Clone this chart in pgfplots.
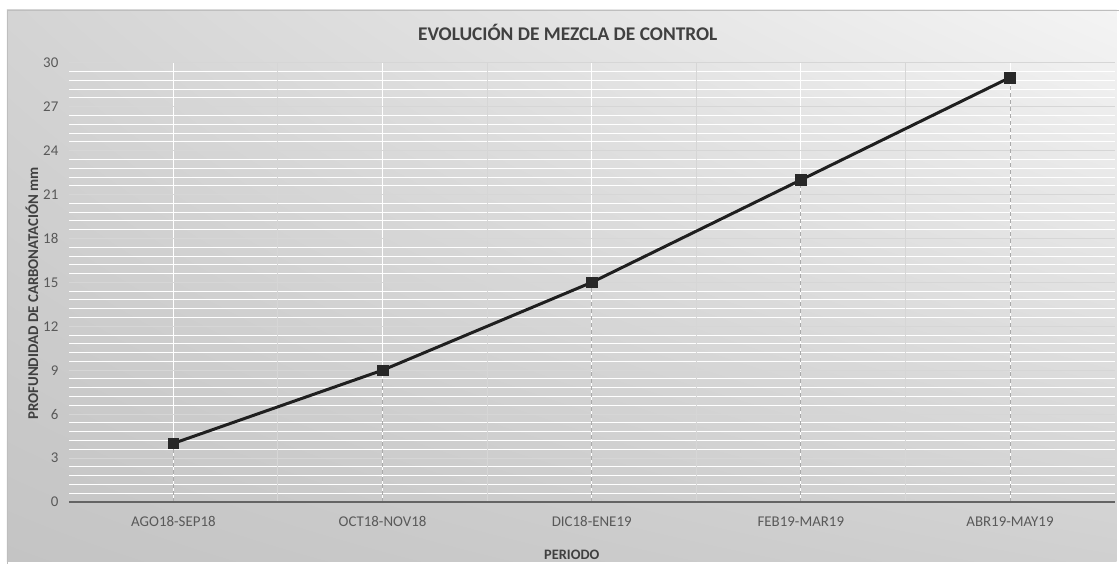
\documentclass[border=0pt]{standalone}
\usepackage{pgfplots}
\pgfplotsset{compat=1.18}
\usetikzlibrary{shadings}
\usepackage{fontspec}
\setmainfont{Carlito}
\definecolor{txt}{HTML}{595959}
\definecolor{ttl}{HTML}{404040}
\definecolor{dark}{HTML}{1F1F1F}
\definecolor{ul}{HTML}{D4D4D4}
\definecolor{ur}{HTML}{F4F4F4}
\definecolor{ll}{HTML}{C4C4C4}
\definecolor{lr}{HTML}{D0D0D0}
\definecolor{frame}{HTML}{BEBEBE}
\definecolor{mgrid}{HTML}{D6D6D6}
\definecolor{drop}{HTML}{AAAAAA}
\definecolor{xaxis}{HTML}{646464}
\definecolor{mk}{HTML}{282828}
\begin{document}
\begin{tikzpicture}[x=1bp,y=1bp]
\fill[white] (0,0) rectangle (1119,563);
\shade[upper left=ul, upper right=ur, lower left=ll, lower right=lr]
  (7,0) rectangle (1119,553);
\draw[color=frame, line width=0.8bp] (7,-2) -- (7,553) -- (1121,553);
\node[font=\bfseries\fontsize{19.5}{22}\selectfont, text=ttl] at (569,530) {EVOLUCIÓN DE MEZCLA DE CONTROL};
\node[font=\bfseries\fontsize{15}{17}\selectfont, text=ttl, rotate=90] at (32,269) {PROFUNDIDAD DE CARBONATACIÓN mm};
\node[font=\bfseries\fontsize{14.5}{17}\selectfont, text=ttl] at (573,7) {PERIODO};
\begin{axis}[
  at={(69bp,60bp)}, anchor=south west,
  scale only axis, width=1048bp, height=440bp,
  xmin=-0.5, xmax=4.5, ymin=0, ymax=30,
  xtick={0,1,2,3,4},
  xticklabels={AGO18-SEP18,OCT18-NOV18,DIC18-ENE19,FEB19-MAR19,ABR19-MAY19},
  ytick={0,3,...,30},
  minor y tick num=4,
  grid=both,
  major grid style={draw=white, line width=0.8bp},
  minor grid style={draw=white, line width=1bp},
  axis line style={draw=none},
  tick style={draw=none},
  /pgf/number format/assume math mode=true,
  xticklabel style={font=\fontsize{15}{17}\selectfont, text=txt, anchor=center, yshift=-20bp},
  yticklabel style={font=\fontsize{15}{17}\selectfont, text=txt, anchor=east, xshift=-7bp},
  clip=false,
]
\pgfplotsinvokeforeach{3,6,...,30}{\draw[color=mgrid, line width=1bp] (axis cs:-0.5,#1) -- (axis cs:4.5,#1);}
\pgfplotsinvokeforeach{0.5,1.5,2.5,3.5}{\draw[color=mgrid, line width=1bp] (axis cs:#1,0) -- (axis cs:#1,30);}
\addplot[ycomb, dash pattern=on 4bp off 3bp, color=drop, line width=0.8bp, mark=none] coordinates {(0,4) (1,9) (2,15) (3,22) (4,29)};
\draw[color=xaxis, line width=1.5bp] (axis cs:-0.5,0) -- (axis cs:4.5,0);
\addplot[color=dark, line width=3bp, mark=square*, mark size=5.3bp, mark options={fill=mk, draw=mk, line width=0.5bp}]
  coordinates {(0,4) (1,9) (2,15) (3,22) (4,29)};
\end{axis}
\end{tikzpicture}
\end{document}
